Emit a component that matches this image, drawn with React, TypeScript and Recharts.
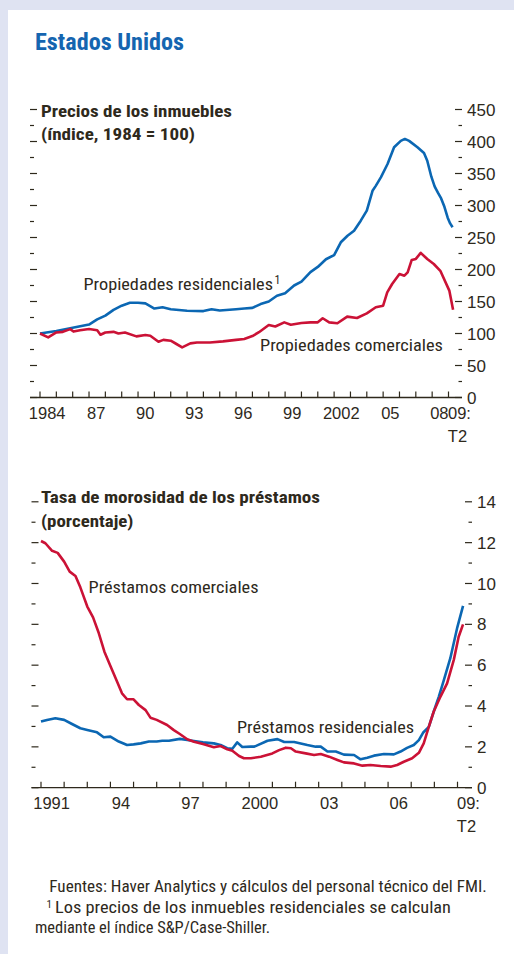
import React from 'react';
import { LineChart, Line, XAxis, YAxis } from 'recharts';

const INK = '#2e291c';
const BLUE = '#0b67b3';
const RED = '#cb1236';
const TITLE_BLUE = '#1565b0';
const BG = '#dfe3f2';
const NARROW =
  "'Liberation Sans Narrow', 'Roboto Condensed', 'DejaVu Sans Condensed', 'Liberation Sans', Arial, sans-serif";
const TICKFONT = "'Liberation Sans', Arial, sans-serif";

// Precios de los inmuebles (índice, 1984 = 100)
const resYears = [
  1984, 1985, 1986, 1987, 1987.5, 1988, 1988.5, 1989, 1989.5, 1990, 1990.45, 1991, 1991.5, 1992, 1993, 1994,
  1994.5, 1995, 1996, 1996.5, 1997, 1997.5, 1998, 1998.5, 1999, 1999.55, 2000, 2000.55, 2001, 2001.5, 2002,
  2002.41, 2002.82, 2003.22, 2003.63, 2004, 2004.35, 2004.55, 2004.86, 2005.27, 2005.67, 2006.08, 2006.33,
  2006.59, 2007.1, 2007.5, 2007.7, 2007.95, 2008.15, 2008.35, 2008.55, 2008.75, 2008.95, 2009.1, 2009.25,
];
const resIndex = [
  100, 104, 109, 114, 122, 128, 137, 143.5, 148, 148, 147, 139, 141, 138, 135.5, 135, 138, 136, 138, 139, 140,
  146, 150, 159, 163, 175, 181, 196, 204, 216, 222.5, 242.5, 252.8, 260.6, 276.3, 292, 323, 330.7, 344, 364.8,
  391, 401, 404, 401, 391, 382, 370, 345, 330, 320, 311, 298, 281, 272, 266,
];
const comYears = [
  1984, 1984.5, 1985, 1985.4, 1985.85, 1986.05, 1986.45, 1987, 1987.5, 1987.7, 1988, 1988.5, 1988.8, 1989.2,
  1989.9, 1990.45, 1990.75, 1991.25, 1991.55, 1992, 1992.35, 1992.7, 1993.2, 1993.6, 1994.4, 1995.2, 1996,
  1996.5, 1997, 1997.4, 1998, 1998.4, 1998.95, 1999.35, 2000, 2000.55, 2001, 2001.3, 2001.7, 2002.2, 2002.8,
  2003.4, 2004, 2004.55, 2005, 2005.25, 2005.55, 2006, 2006.3, 2006.5, 2006.75, 2007, 2007.3, 2007.7, 2008.1,
  2008.5, 2009.05, 2009.28,
];
const comIndex = [
  100, 94, 101.6, 102.6, 106.8, 103, 105, 107, 105, 98, 101.6, 102.6, 100, 101.6, 95.5, 97.6, 96.6, 87.2, 90,
  88.7, 83.6, 78.4, 84.6, 86, 86, 87.7, 90, 91.5, 96, 102, 113.3, 111, 117.4, 113.8, 116.4, 117.4, 117.4, 123.8,
  117.4, 116, 126.4, 124.2, 131.5, 141, 143.5, 164.3, 177.3, 193, 190.4, 195.6, 215, 216.5, 226, 216.5, 208.6,
  198, 167, 137,
];

// Tasa de morosidad de los préstamos (porcentaje)
const comLoanYears = [
  1991, 1991.19, 1991.48, 1991.72, 1992, 1992.24, 1992.49, 1992.7, 1993, 1993.25, 1993.5, 1993.74, 1994,
  1994.29, 1994.5, 1994.72, 1995, 1995.23, 1995.52, 1995.73, 1996, 1996.45, 1996.74, 1997, 1997.32, 1997.61,
  1998, 1998.47, 1998.76, 1999.05, 1999.27, 1999.56, 1999.77, 2000.07, 2000.5, 2001, 2001.29, 2001.58, 2001.8,
  2002.01, 2002.44, 2002.8, 2003.09, 2003.45, 2003.81, 2004.09, 2004.53, 2004.89, 2005.24, 2005.68, 2006.11,
  2006.39, 2006.68, 2007.04, 2007.33, 2007.54, 2007.76, 2007.97, 2008.26, 2008.55, 2008.84, 2009.05, 2009.24,
];
const comLoanRate = [
  12.08, 11.97, 11.6, 11.5, 11.07, 10.58, 10.37, 9.81, 8.87, 8.34, 7.56, 6.66, 5.96, 5.19, 4.62, 4.33, 4.33,
  4.05, 3.8, 3.43, 3.32, 3.07, 2.82, 2.63, 2.37, 2.25, 2.14, 1.98, 2.04, 1.88, 1.81, 1.55, 1.44, 1.44, 1.52,
  1.68, 1.84, 1.96, 1.93, 1.77, 1.68, 1.6, 1.65, 1.52, 1.36, 1.24, 1.19, 1.08, 1.11, 1.06, 1.03, 1.11, 1.27,
  1.44, 1.71, 2.17, 2.98, 3.72, 4.45, 5.11, 6.26, 7.39, 8.0,
];
const resLoanYears = [
  1991, 1991.26, 1991.62, 1992, 1992.34, 1992.7, 1993, 1993.42, 1993.71, 1994, 1994.36, 1994.72, 1995, 1995.31,
  1995.66, 1996, 1996.24, 1996.53, 1997, 1997.32, 1997.61, 1998, 1998.47, 1998.76, 1999.05, 1999.27, 1999.48,
  1999.7, 2000.07, 2000.22, 2000.79, 2001.22, 2001.51, 2001.94, 2002.51, 2002.87, 2003.09, 2003.38, 2003.74,
  2004.09, 2004.53, 2004.81, 2005.1, 2005.39, 2005.82, 2006.25, 2006.54, 2006.82, 2007.11, 2007.33, 2007.51,
  2007.76, 2007.97, 2008.19, 2008.41, 2008.69, 2008.98, 2009.24,
];
const resLoanRate = [
  3.24, 3.32, 3.4, 3.32, 3.12, 2.91, 2.83, 2.71, 2.47, 2.5, 2.26, 2.09, 2.12, 2.17, 2.26, 2.26, 2.3, 2.3, 2.39,
  2.34, 2.29, 2.22, 2.17, 2.09, 1.93, 1.91, 2.22, 1.99, 2.01, 2.01, 2.3, 2.38, 2.24, 2.24, 2.09, 2.01, 2.01,
  1.77, 1.77, 1.62, 1.6, 1.39, 1.47, 1.57, 1.65, 1.63, 1.77, 1.95, 2.09, 2.33, 2.69, 2.98, 3.72, 4.45, 5.27,
  6.34, 7.8, 8.9,
];

// ejes
const priceTicks = [0, 25, 50, 75, 100, 125, 150, 175, 200, 225, 250, 275, 300, 325, 350, 375, 400, 425, 450];
const rateTicks = [0, 1, 2, 3, 4, 5, 6, 7, 8, 9, 10, 11, 12, 13, 14];
const topYearTicks = [
  1984, 1985, 1986, 1987, 1988, 1989, 1990, 1991, 1992, 1993, 1994, 1995, 1996, 1997, 1998, 1999, 2000, 2001,
  2002, 2003, 2004, 2005, 2006, 2007, 2008, 2009,
];
const topLabelYears = [1984, 1987, 1990, 1993, 1996, 1999, 2002, 2005, 2008, 2009];
const topLabelTexts = ['1984', '87', '90', '93', '96', '99', '2002', '05', '08', '09:'];
const botYearTicks = [
  1991, 1992, 1993, 1994, 1995, 1996, 1997, 1998, 1999, 2000, 2001, 2002, 2003, 2004, 2005, 2006, 2007, 2008,
  2009,
];
const botLabelYears = [1991, 1994, 1997, 2000, 2003, 2006, 2009];
const botLabelTexts = ['1991', '94', '97', '2000', '03', '06', '09:'];

const pts = (xs: number[], vs: number[]) => xs.map((x, i) => ({ x, v: vs[i] }));

const AX_H = 30; // alto reservado del eje X
const AX_W = 20; // ancho reservado de cada eje Y

type Geo = {
  left: number;
  right: number;
  top: number;
  bottom: number;
  yrA: number;
  pxA: number;
  yrB: number;
  pxB: number;
};

type PanelProps = {
  offsetTop: number;
  height: number;
  g: Geo;
  yearTicks: number[];
  labelYears: number[];
  labelTexts: string[];
  vTicks: number[];
  vMax: number;
  majorStep: number;
  blue: { x: number; v: number }[];
  red: { x: number; v: number }[];
};

function Panel({ offsetTop, height, g, yearTicks, labelYears, labelTexts, vTicks, vMax, majorStep, blue, red }: PanelProps) {
  const k = (g.pxB - g.pxA) / (g.yrB - g.yrA);
  const domain = [g.yrA - (g.pxA - g.left) / k, g.yrB + (g.right - g.pxB) / k];
  const axisY = g.bottom - offsetTop;

  const XTick = (p: any) => {
    const yr = p.payload.value;
    const i = labelYears.indexOf(yr);
    const last = i >= 0 && labelTexts[i] === '09:';
    return (
      <g>
        <line x1={p.x} x2={p.x} y1={axisY} y2={axisY - 6} stroke={INK} strokeWidth={1.2} />
        {i >= 0 && !last && (
          <text x={p.x + k / 2 - 1} y={axisY + 21} textAnchor="middle" fontFamily={TICKFONT} fontSize={16.5} fill={INK}>
            {labelTexts[i]}
          </text>
        )}
        {last && (
          <text x={p.x - 0.5} y={axisY + 21} textAnchor="start" fontFamily={TICKFONT} fontSize={16.5} fill={INK}>
            {labelTexts[i]}
          </text>
        )}
        {last && (
          <text x={p.x + 9} y={axisY + 44.5} textAnchor="middle" fontFamily={TICKFONT} fontSize={16.5} fill={INK}>
            T2
          </text>
        )}
      </g>
    );
  };

  const LeftTick = (p: any) => {
    const major = p.payload.value % majorStep === 0;
    return <line x1={g.left} x2={g.left + (major ? 7 : 4)} y1={p.y} y2={p.y} stroke={INK} strokeWidth={1.2} />;
  };

  const RightTick = (p: any) => {
    const major = p.payload.value % majorStep === 0;
    return (
      <g>
        <line x1={g.right - (major ? 7 : 3.5)} x2={g.right} y1={p.y} y2={p.y} stroke={INK} strokeWidth={1.2} />
        {major && (
          <text x={g.right + 5} y={p.y} dy="0.36em" textAnchor="start" fontFamily={TICKFONT} fontSize={17} fill={INK}>
            {p.payload.value}
          </text>
        )}
      </g>
    );
  };

  return (
    <div style={{ position: 'absolute', left: 0, top: offsetTop }}>
      <LineChart
        width={514}
        height={height}
        margin={{
          top: g.top - offsetTop,
          bottom: offsetTop + height - g.bottom - AX_H,
          left: g.left - AX_W,
          right: 514 - g.right - AX_W,
        }}
      >
        <XAxis
          dataKey="x"
          type="number"
          domain={domain}
          ticks={yearTicks}
          interval={0}
          height={AX_H}
          tickLine={false}
          axisLine={{ stroke: INK, strokeWidth: 1.3 }}
          tick={XTick}
          allowDataOverflow
        />
        <YAxis
          yAxisId="l"
          orientation="left"
          width={AX_W}
          type="number"
          domain={[0, vMax]}
          ticks={vTicks}
          interval={0}
          axisLine={false}
          tickLine={false}
          tick={LeftTick}
        />
        <YAxis
          yAxisId="r"
          orientation="right"
          width={AX_W}
          type="number"
          domain={[0, vMax]}
          ticks={vTicks}
          interval={0}
          axisLine={false}
          tickLine={false}
          tick={RightTick}
        />
        <Line
          yAxisId="l"
          data={blue}
          dataKey="v"
          type="linear"
          stroke={BLUE}
          strokeWidth={2.6}
          dot={false}
          isAnimationActive={false}
          strokeLinejoin="round"
        />
        <Line
          yAxisId="r"
          data={red}
          dataKey="v"
          type="linear"
          stroke={RED}
          strokeWidth={2.6}
          dot={false}
          isAnimationActive={false}
          strokeLinejoin="round"
        />
      </LineChart>
    </div>
  );
}

type Label = { t: string; x: number; y: number; w?: number; size: number; bold?: boolean; fill?: string };

const labels: Label[] = [
  { t: 'Estados Unidos', x: 35, y: 50, w: 149, size: 23, bold: true, fill: TITLE_BLUE },
  { t: 'Precios de los inmuebles', x: 41, y: 116.5, w: 191, size: 17, bold: true },
  { t: '(índice, 1984 = 100)', x: 41, y: 139.5, w: 154, size: 17, bold: true },
  { t: 'Propiedades residenciales', x: 83.5, y: 290, w: 189.5, size: 17 },
  { t: '1', x: 274.5, y: 284, size: 12 },
  { t: 'Propiedades comerciales', x: 260, y: 351, w: 183, size: 17 },
  { t: 'Tasa de morosidad de los préstamos', x: 41, y: 503, w: 279, size: 17, bold: true },
  { t: '(porcentaje)', x: 41, y: 526.5, w: 92.5, size: 17, bold: true },
  { t: 'Préstamos comerciales', x: 88.5, y: 593, w: 170, size: 17 },
  { t: 'Préstamos residenciales', x: 237, y: 732.5, w: 177, size: 17 },
  { t: 'Fuentes: Haver Analytics y cálculos del personal técnico del FMI.', x: 49.3, y: 892, w: 437.4, size: 16 },
  { t: '1', x: 46.5, y: 908, size: 11 },
  { t: 'Los precios de los inmuebles residenciales se calculan', x: 55, y: 913, w: 396, size: 16 },
  { t: 'mediante el índice S&P/Case-Shiller.', x: 35, y: 933, w: 235, size: 16 },
];

export default function App() {
  return (
    <div style={{ position: 'absolute', left: 0, top: 0, width: 514, height: 954, background: BG, overflow: 'hidden' }}>
      <div style={{ position: 'absolute', left: 8, top: 10, width: 506, height: 944, background: '#ffffff' }} />
      <Panel
        offsetTop={0}
        height={470}
        g={{ left: 30, right: 462, top: 109.5, bottom: 397.5, yrA: 1984, pxA: 40, yrB: 2009, pxB: 448.5 }}
        yearTicks={topYearTicks}
        labelYears={topLabelYears}
        labelTexts={topLabelTexts}
        vTicks={priceTicks}
        vMax={450}
        majorStep={50}
        blue={pts(resYears, resIndex)}
        red={pts(comYears, comIndex)}
      />
      <Panel
        offsetTop={470}
        height={400}
        g={{ left: 31.5, right: 472, top: 501.8, bottom: 787.7, yrA: 1991, pxA: 41, yrB: 2009, pxB: 457.5 }}
        yearTicks={botYearTicks}
        labelYears={botLabelYears}
        labelTexts={botLabelTexts}
        vTicks={rateTicks}
        vMax={14}
        majorStep={2}
        blue={pts(resLoanYears, resLoanRate)}
        red={pts(comLoanYears, comLoanRate)}
      />
      <svg width={514} height={954} style={{ position: 'absolute', left: 0, top: 0, pointerEvents: 'none' }}>
        {labels.map((l, i) => (
          <text
            key={i}
            x={l.x}
            y={l.y}
            fontFamily={NARROW}
            fontSize={l.size}
            fontWeight={l.bold ? 700 : 400}
            fill={l.fill ?? INK}
            textLength={l.w}
            lengthAdjust={l.w ? 'spacingAndGlyphs' : undefined}
          >
            {l.t}
          </text>
        ))}
      </svg>
    </div>
  );
}
